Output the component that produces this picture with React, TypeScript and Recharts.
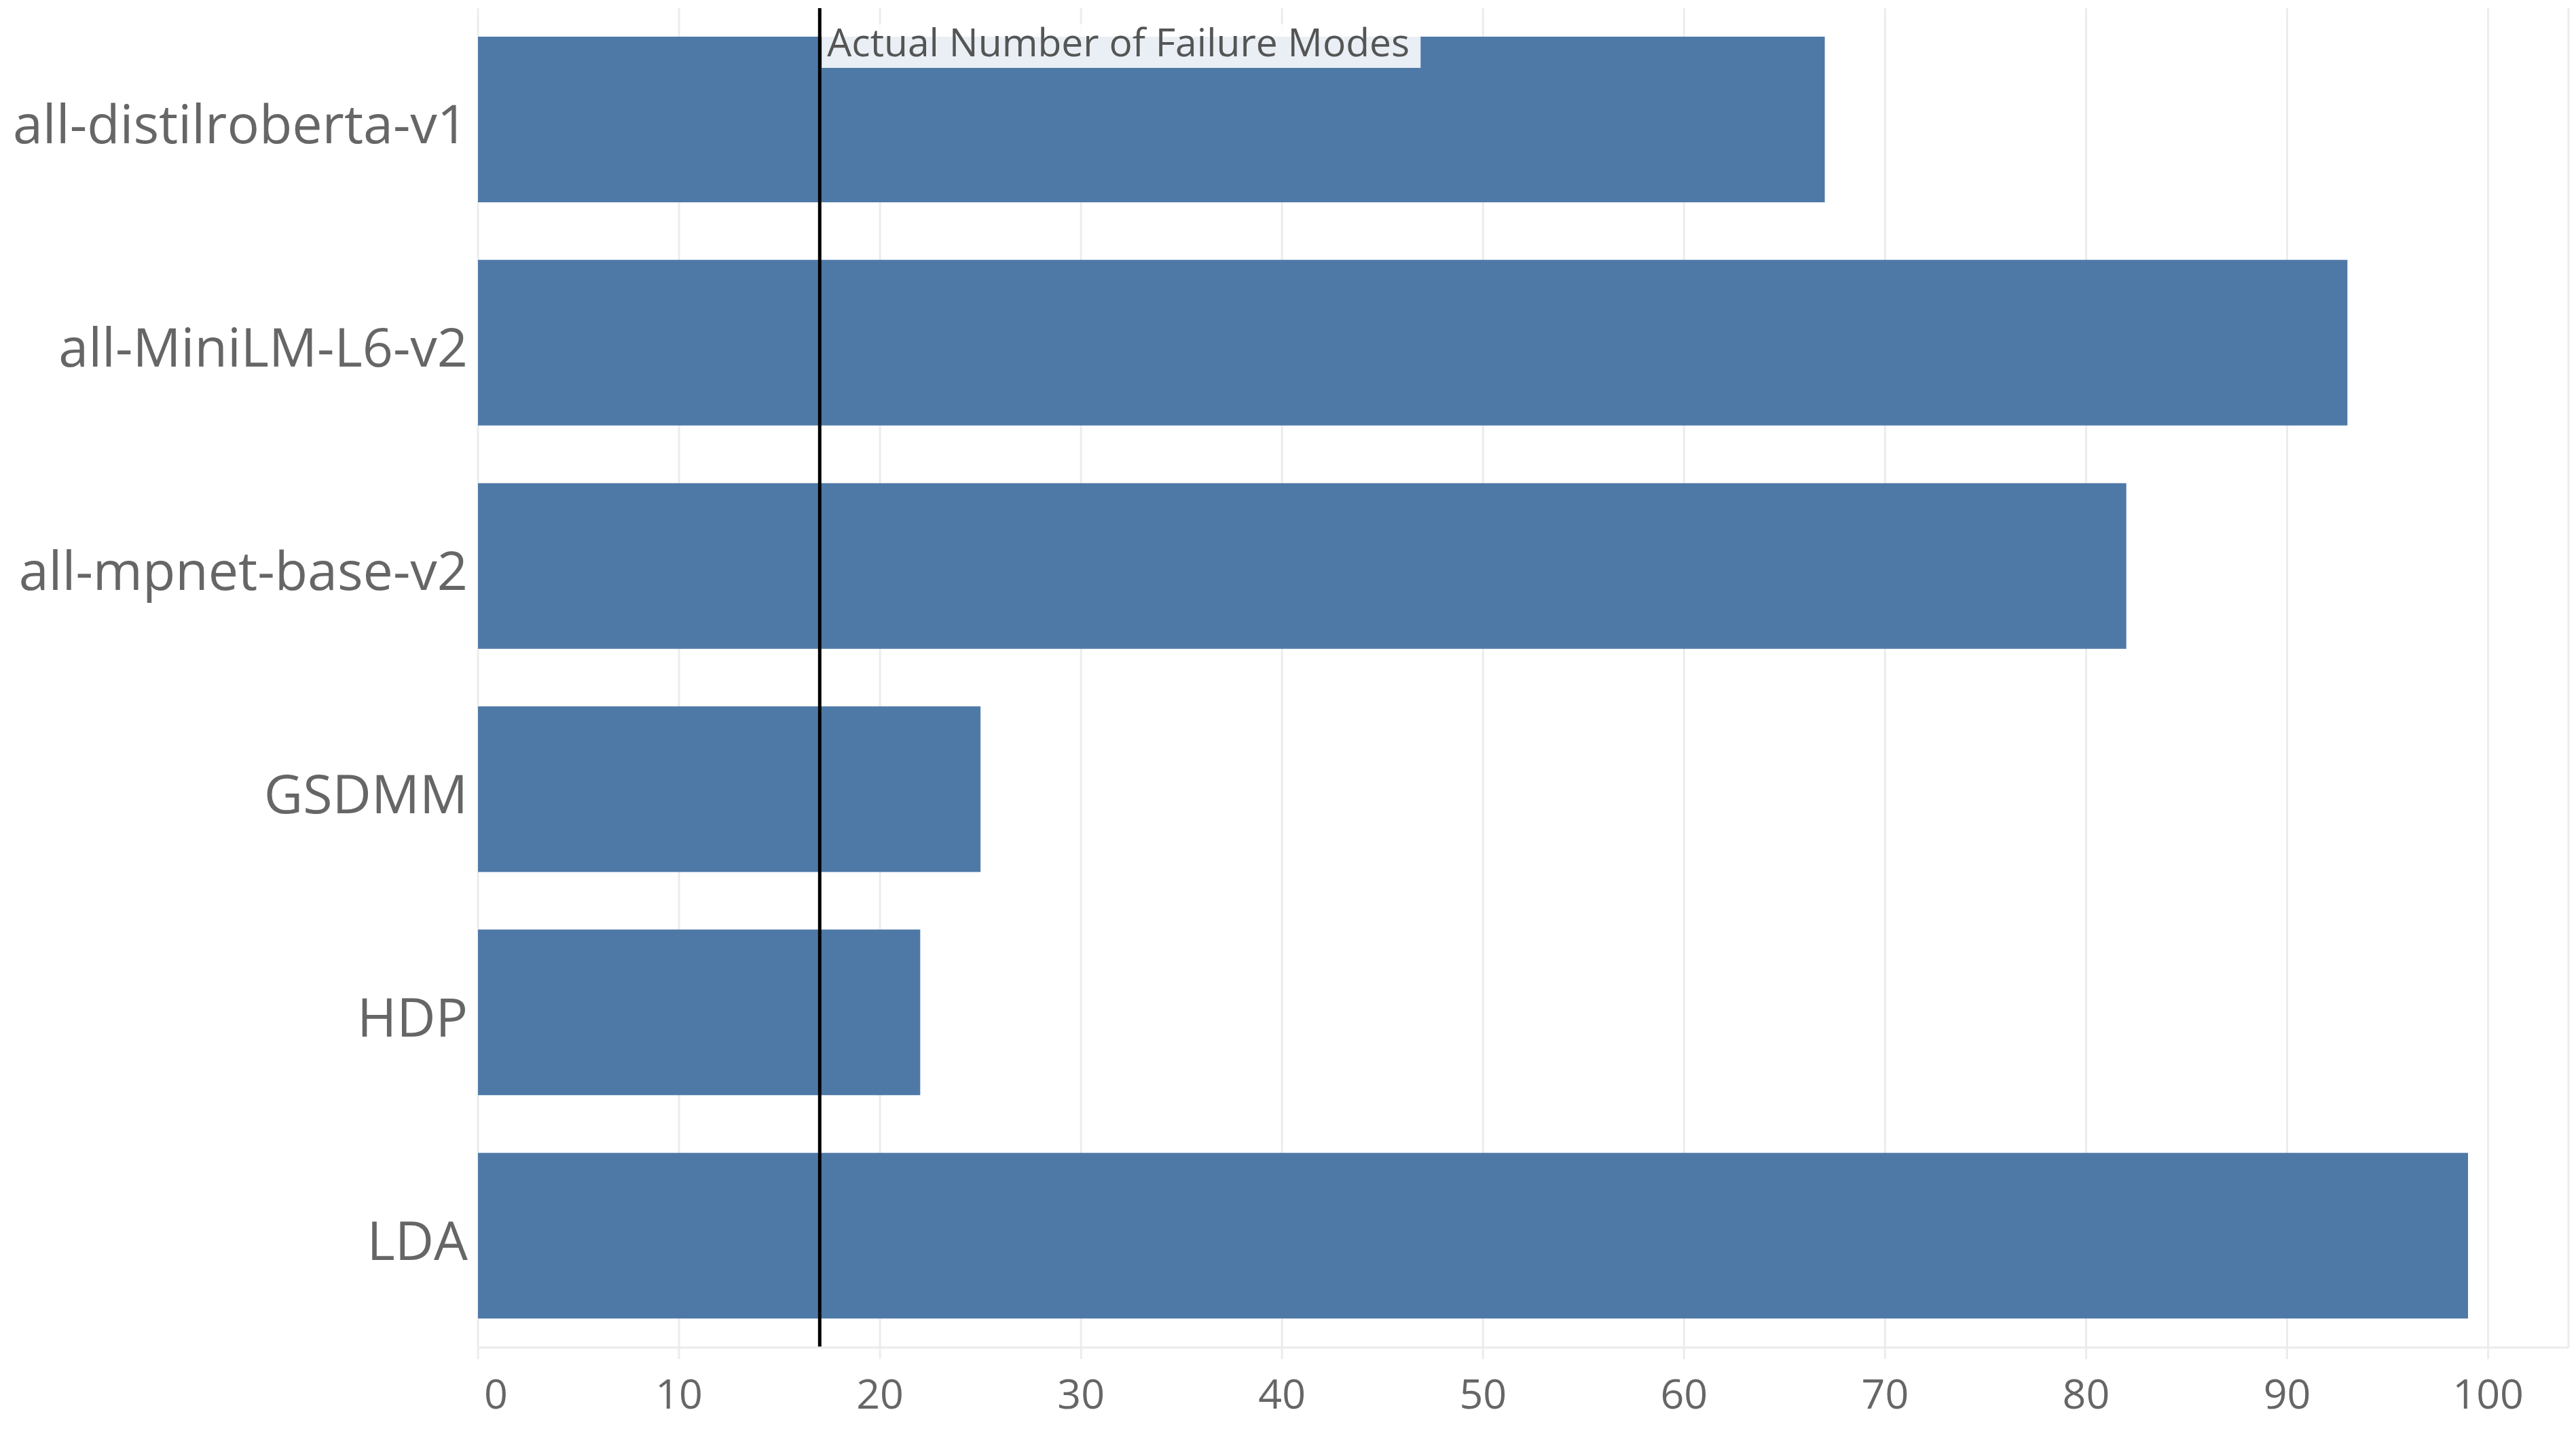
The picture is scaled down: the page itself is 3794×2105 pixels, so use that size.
import React from "react";
import { BarChart, Bar, XAxis, YAxis, CartesianGrid, ReferenceLine } from "recharts";

const models = ["all-distilroberta-v1", "all-MiniLM-L6-v2", "all-mpnet-base-v2", "GSDMM", "HDP", "LDA"];
const failureModes = [67, 93, 82, 25, 22, 99];
const xTicks = [0, 10, 20, 30, 40, 50, 60, 70, 80, 90, 100];
const actualFailureModes = 17;
const referenceLabel = "Actual Number of Failure Modes";

const data = models.map((m, i) => ({ model: m, value: failureModes[i] }));

const FONT = "'Open Sans', 'Noto Sans', sans-serif";

const XTick = (props: any) => {
  const { x, y, payload } = props;
  const isZero = payload.value === 0;
  return (
    <text
      x={isZero ? x + 9 : x}
      y={y}
      dy="0.71em"
      textAnchor={isZero ? "start" : "middle"}
      fill="#666666"
      fontSize={61}
      fontFamily={FONT}
    >
      {payload.value}
    </text>
  );
};

const YTick = (props: any) => {
  const { x, y, payload } = props;
  return (
    <text
      x={x}
      y={y + 7}
      dy="0.355em"
      textAnchor="end"
      fill="#666666"
      fontSize={79}
      fontFamily={FONT}
    >
      {payload.value}
    </text>
  );
};

const RefLabel = (props: any) => {
  const vb = props.viewBox || {};
  const x = vb.x ?? 0;
  const y = vb.y ?? 0;
  return (
    <g>
      <rect x={x + 3} y={y + 24} width={882} height={64} fill="#ffffff" fillOpacity={0.88} />
      <text x={x + 11} y={y + 71} fill="#555555" fontSize={57} fontFamily={FONT}>
        {referenceLabel}
      </text>
    </g>
  );
};

export default function App() {
  return (
    <div style={{ position: "fixed", left: 0, top: 0, background: "#ffffff" }}>
      <BarChart
        width={3794}
        height={2105}
        data={data}
        layout="vertical"
        margin={{ top: 12, right: 11, bottom: 0, left: 0 }}
        barSize={244}
      >
        <CartesianGrid horizontal={false} vertical={true} stroke="#ececec" strokeWidth={3} />
        <XAxis
          type="number"
          domain={[0, 104]}
          ticks={xTicks}
          allowDataOverflow
          height={120}
          axisLine={{ stroke: "#ececec", strokeWidth: 3 }}
          tickLine={{ stroke: "#ececec", strokeWidth: 3 }}
          tickSize={17}
          tickMargin={30}
          tick={<XTick />}
        />
        <YAxis
          type="category"
          dataKey="model"
          width={704}
          axisLine={false}
          tickLine={false}
          tickSize={0}
          tickMargin={15}
          interval={0}
          tick={<YTick />}
        />
        <Bar dataKey="value" fill="#4e79a7" isAnimationActive={false} />
        <ReferenceLine
          x={actualFailureModes}
          stroke="#000000"
          strokeWidth={5}
          label={<RefLabel />}
        />
      </BarChart>
    </div>
  );
}
